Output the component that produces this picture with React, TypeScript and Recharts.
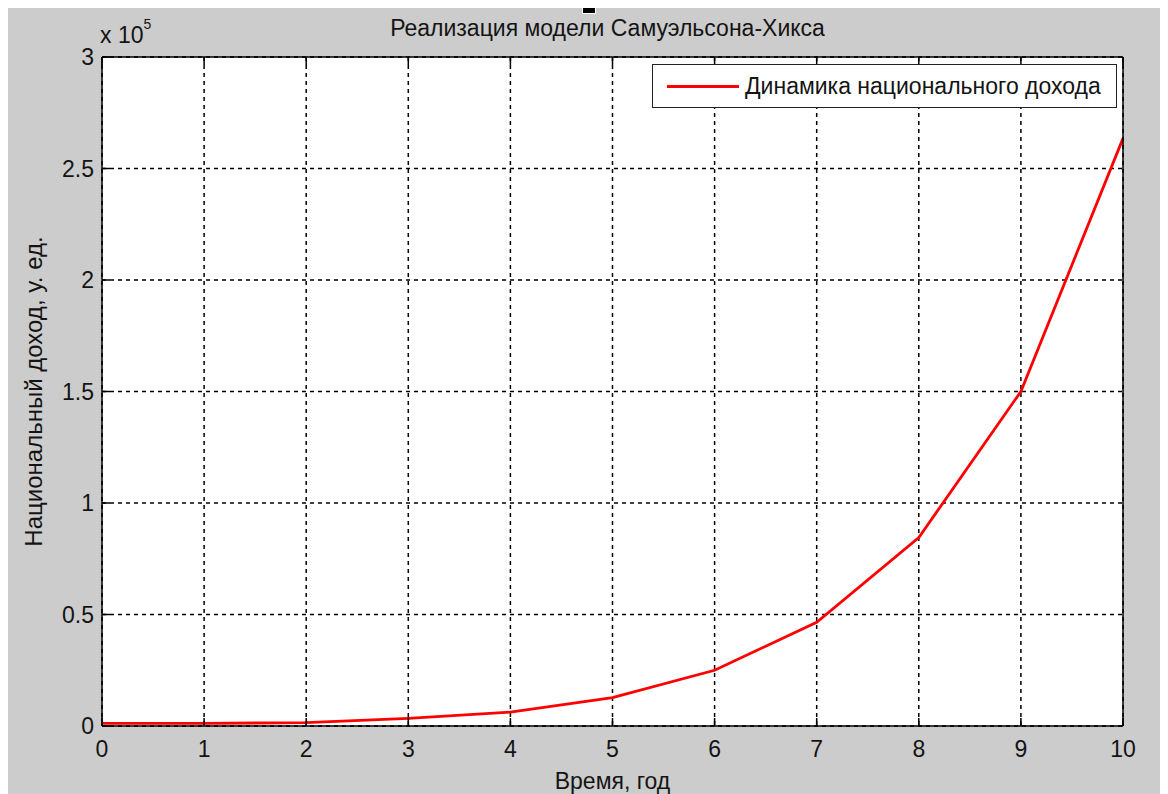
import React from "react";
import {
  CartesianGrid,
  ComposedChart,
  Line,
  XAxis,
  YAxis,
} from "recharts";

// Samuelson-Hicks model output
const years = [0, 1, 2, 3, 4, 5, 6, 7, 8, 9, 10];
const income = [1200, 1200, 1500, 3400, 6200, 12700, 25000, 46500, 84500, 150000, 263500];

const xTicks = [0, 1, 2, 3, 4, 5, 6, 7, 8, 9, 10];
const yTicks = [0, 50000, 100000, 150000, 200000, 250000, 300000];

const data = years.map((t, i) => ({ t, y: income[i] }));

const FONT = "Arial, 'Liberation Sans', sans-serif";
const TXT = "#141414";

const BottomTick = (props: any) => {
  const { x, y, payload } = props;
  return (
    <g>
      <line x1={x} y1={y} x2={x} y2={y - 8} stroke="#000" strokeWidth={1.5} />
      <text x={x} y={y + 31} textAnchor="middle" fontSize={23} fill={TXT} fontFamily={FONT}>
        {payload.value}
      </text>
    </g>
  );
};

const TopTick = (props: any) => {
  const { x, y } = props;
  return <line x1={x} y1={y} x2={x} y2={y + 8} stroke="#000" strokeWidth={1.5} />;
};

const LeftTick = (props: any) => {
  const { x, y, payload } = props;
  return (
    <g>
      <line x1={x} y1={y} x2={x + 8} y2={y} stroke="#000" strokeWidth={1.5} />
      <text x={x - 8} y={y + 8} textAnchor="end" fontSize={23} fill={TXT} fontFamily={FONT}>
        {payload.value / 100000}
      </text>
    </g>
  );
};

const RightTick = (props: any) => {
  const { x, y } = props;
  return <line x1={x} y1={y} x2={x - 8} y2={y} stroke="#000" strokeWidth={1.5} />;
};

export default function App() {
  return (
    <div
      style={{
        position: "relative",
        marginLeft: -2,
        width: 1162,
        height: 786,
        background: "#cccccc",
        overflow: "hidden",
        fontFamily: FONT,
      }}
    >
      <div
        style={{
          position: "absolute",
          left: 577,
          top: 0,
          width: 12,
          height: 5,
          background: "#000",
          outline: "1px solid #fff",
        }}
      />
      <div
        style={{
          position: "absolute",
          left: 0,
          width: 1203,
          top: 7,
          textAlign: "center",
          fontSize: 23,
          lineHeight: "26px",
          color: TXT,
        }}
      >
        Реализация модели Самуэльсона-Хикса
      </div>
      <div style={{ position: "absolute", left: 94, top: 14, fontSize: 23, lineHeight: "26px", color: TXT }}>
        x 10
        <span style={{ position: "relative", top: -14, fontSize: 14 }}>5</span>
      </div>
      <ComposedChart
        width={1162}
        height={786}
        data={data}
        margin={{ top: 39, right: 35, bottom: 0, left: 0 }}
      >
        <CartesianGrid
          xAxisId="b"
          yAxisId="l"
          stroke="#000"
          strokeDasharray="4 4"
          strokeWidth={1.5}
          fill="#fff"
          fillOpacity={1}
        />
        <XAxis
          xAxisId="b"
          dataKey="t"
          type="number"
          domain={[0, 10]}
          ticks={xTicks}
          interval={0}
          height={68}
          tickSize={0}
          tickMargin={0}
          tickLine={false}
          tick={<BottomTick />}
          axisLine={{ stroke: "#000", strokeWidth: 1.5 }}
          label={{
            value: "Время, год",
            position: "insideBottom",
            offset: 5,
            fontSize: 23,
            fill: TXT,
            fontFamily: FONT,
          }}
        />
        <XAxis
          xAxisId="t"
          orientation="top"
          dataKey="t"
          type="number"
          domain={[0, 10]}
          ticks={xTicks}
          interval={0}
          height={10}
          tickSize={0}
          tickMargin={0}
          tickLine={false}
          tick={<TopTick />}
          axisLine={{ stroke: "#000", strokeWidth: 1.5 }}
        />
        <YAxis
          yAxisId="l"
          type="number"
          domain={[0, 300000]}
          ticks={yTicks}
          interval={0}
          width={96}
          tickSize={0}
          tickMargin={0}
          tickLine={false}
          tick={<LeftTick />}
          axisLine={{ stroke: "#000", strokeWidth: 1.5 }}
          label={{
            value: "Национальный доход, у. ед.",
            angle: -90,
            position: "insideLeft",
            offset: 27,
            fontSize: 24,
            fill: TXT,
            fontFamily: FONT,
            style: { textAnchor: "middle" },
          }}
        />
        <YAxis
          yAxisId="r"
          orientation="right"
          type="number"
          domain={[0, 300000]}
          ticks={yTicks}
          interval={0}
          width={10}
          tickSize={0}
          tickMargin={0}
          tickLine={false}
          tick={<RightTick />}
          axisLine={{ stroke: "#000", strokeWidth: 1.5 }}
        />
        <Line
          xAxisId="b"
          yAxisId="l"
          type="linear"
          dataKey="y"
          name="Динамика национального дохода"
          stroke="#ff0000"
          strokeWidth={2.8}
          dot={false}
          isAnimationActive={false}
        />
      </ComposedChart>
      {/* legend box, top right inside the axes */}
      <div
        style={{
          position: "absolute",
          left: 646,
          top: 56,
          boxSizing: "border-box",
          width: 465,
          height: 44,
          background: "#fff",
          border: "1.5px solid #222",
          display: "flex",
          alignItems: "center",
          fontSize: 23,
          color: TXT,
        }}
      >
        <span style={{ display: "inline-block", width: 72, height: 3, background: "#ff0000", marginLeft: 14, marginRight: 6 }} />
        <span>Динамика национального дохода</span>
      </div>
    </div>
  );
}
